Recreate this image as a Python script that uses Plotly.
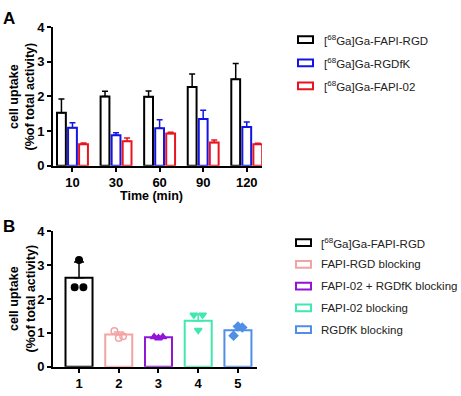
import plotly.graph_objects as go

W, H = 461, 396

# ---------- Panel A data ----------
times = ["10", "30", "60", "90", "120"]
seriesA_names = ["[<sup>68</sup>Ga]Ga-FAPI-RGD", "[<sup>68</sup>Ga]Ga-RGDfK", "[<sup>68</sup>Ga]Ga-FAPI-02"]
fapi_rgd_mean = [1.53, 2.0, 1.99, 2.27, 2.5]
fapi_rgd_err = [0.40, 0.15, 0.17, 0.38, 0.45]
rgdfk_mean = [1.10, 0.88, 1.08, 1.35, 1.12]
rgdfk_err = [0.14, 0.07, 0.25, 0.25, 0.14]
fapi02_mean = [0.62, 0.71, 0.93, 0.67, 0.62]
fapi02_err = [0.04, 0.09, 0.04, 0.07, 0.03]
seriesA_colors = ["#000000", "#1414E6", "#E8141E"]

# ---------- Panel B data ----------
groupsB = ["1", "2", "3", "4", "5"]
seriesB_names = ["[<sup>68</sup>Ga]Ga-FAPI-RGD", "FAPI-RGD blocking", "FAPI-02 + RGDfK blocking",
                 "FAPI-02 blocking", "RGDfK blocking"]
b_mean = [2.63, 0.95, 0.87, 1.36, 1.08]
b_err = [0.46, 0.08, 0.03, 0.18, 0.12]
b_points = [[2.35, 3.15, 2.35], [1.06, 0.85, 0.90], [0.88, 0.85, 0.88],
            [1.53, 1.08, 1.53], [0.92, 1.19, 1.16]]
b_point_offsets = [-0.11, 0.0, 0.11]
seriesB_colors = ["#000000", "#F4A3A3", "#9314D8", "#3FE8AE", "#4F8FE6"]
b_symbols = ["circle", "circle-open", "triangle-up", "triangle-down", "diamond"]

FONT = "Arial, Liberation Sans, sans-serif"

def px_x(p):
    return p / W

def px_y(p):
    return 1 - p / H

fig = go.Figure()

# Panel A bars
for name, mean, err, col in zip(seriesA_names,
                                [fapi_rgd_mean, rgdfk_mean, fapi02_mean],
                                [fapi_rgd_err, rgdfk_err, fapi02_err],
                                seriesA_colors):
    fig.add_trace(go.Bar(
        x=list(range(len(times))), y=mean, name=name,
        marker=dict(color="white", line=dict(color=col, width=2)),
        error_y=dict(type="data", symmetric=False, array=err, arrayminus=[0] * len(err),
                     color=col, thickness=1.5, width=3),
        xaxis="x", yaxis="y", showlegend=False,
    ))

# Panel B bars
xb = list(range(1, len(groupsB) + 1))
fig.add_trace(go.Bar(
    x=xb, y=b_mean, width=0.68,
    marker=dict(color="white", line=dict(color=seriesB_colors, width=2)),
    xaxis="x2", yaxis="y2", showlegend=False,
))
# B error bars coloured per group
for i, (m, e, col) in enumerate(zip(b_mean, b_err, seriesB_colors)):
    fig.add_trace(go.Scatter(
        x=[xb[i]], y=[m], mode="markers", marker=dict(size=0.1, color=col),
        error_y=dict(type="data", symmetric=False, array=[e], arrayminus=[0],
                     color=col, thickness=1.5, width=5),
        xaxis="x2", yaxis="y2", showlegend=False, hoverinfo="skip",
    ))
# B individual points
for i, (pts, col, sym) in enumerate(zip(b_points, seriesB_colors, b_symbols)):
    fig.add_trace(go.Scatter(
        x=[xb[i] + o for o in b_point_offsets], y=pts, mode="markers",
        marker=dict(symbol=sym, size=6.5, color=col, line=dict(color=col, width=1.5)),
        xaxis="x2", yaxis="y2", showlegend=False,
    ))

axis_common = dict(showline=True, linecolor="black", linewidth=2, ticks="outside",
                   ticklen=4, tickwidth=2, tickcolor="black", showgrid=False, zeroline=False,
                   tickfont=dict(family=FONT, size=13, color="black", weight="bold"))

fig.update_layout(
    width=W, height=H, margin=dict(l=0, r=0, t=0, b=0), autosize=False,
    paper_bgcolor="white", plot_bgcolor="white",
    barmode="group", bargap=0.24, bargroupgap=0.2,
    xaxis=dict(domain=[px_x(53), px_x(262)], range=[-0.447, 4.35], anchor="y",
               tickvals=list(range(len(times))), ticktext=times, **axis_common),
    yaxis=dict(domain=[px_y(165), px_y(21)], range=[0, 4], anchor="x",
               tickvals=[0, 1, 2, 3, 4], **axis_common),
    xaxis2=dict(domain=[px_x(53), px_x(257)], range=[0.345, 5.48], anchor="y2",
                tickvals=xb, ticktext=groupsB, **axis_common),
    yaxis2=dict(domain=[px_y(374), px_y(233)], range=[0, 4], anchor="x2",
                tickvals=[0, 1, 2, 3, 4], **axis_common),
)

annotations = []
shapes = []
# Panel letters
for txt, y in [("A", 12), ("B", 228)]:
    annotations.append(dict(text=txt, x=px_x(9), y=px_y(y), xref="paper", yref="paper",
                            showarrow=False, xanchor="center", yanchor="middle",
                            font=dict(family=FONT, size=17, color="black", weight="bold")))
# Y titles
for yc in [93, 303]:
    annotations.append(dict(text="cell uptake<br>(%of total activity)", x=px_x(22), y=px_y(yc),
                            xref="paper", yref="paper", showarrow=False, textangle=-90,
                            xanchor="center", yanchor="middle",
                            font=dict(family=FONT, size=12.5, color="black", weight="bold")))
# X title A
annotations.append(dict(text="Time (min)", x=px_x(151), y=px_y(196), xref="paper", yref="paper",
                        showarrow=False, xanchor="center", yanchor="middle",
                        font=dict(family=FONT, size=12.5, color="black", weight="bold")))

# Legends (manual)
def add_legend(names, colors, x_box, x_text, y0, dy):
    for i, (n, c) in enumerate(zip(names, colors)):
        yc = y0 + i * dy
        shapes.append(dict(type="rect", xref="paper", yref="paper",
                           x0=px_x(x_box), x1=px_x(x_box + 15), y0=px_y(yc + 3.5), y1=px_y(yc - 3.5),
                           line=dict(color=c, width=2), fillcolor="white"))
        annotations.append(dict(text=n, x=px_x(x_text), y=px_y(yc), xref="paper", yref="paper",
                                showarrow=False, xanchor="left", yanchor="middle",
                                font=dict(family=FONT, size=11.5, color="#222222")))

add_legend(seriesA_names, seriesA_colors, 298, 322, 34, 24)
add_legend(seriesB_names, seriesB_colors, 296, 319, 245, 22.6)

fig.update_layout(annotations=annotations, shapes=shapes)
fig.write_html("out.html", config={"displayModeBar": False},
               post_script="document.body.style.margin='0px';document.body.style.overflow='hidden';")
